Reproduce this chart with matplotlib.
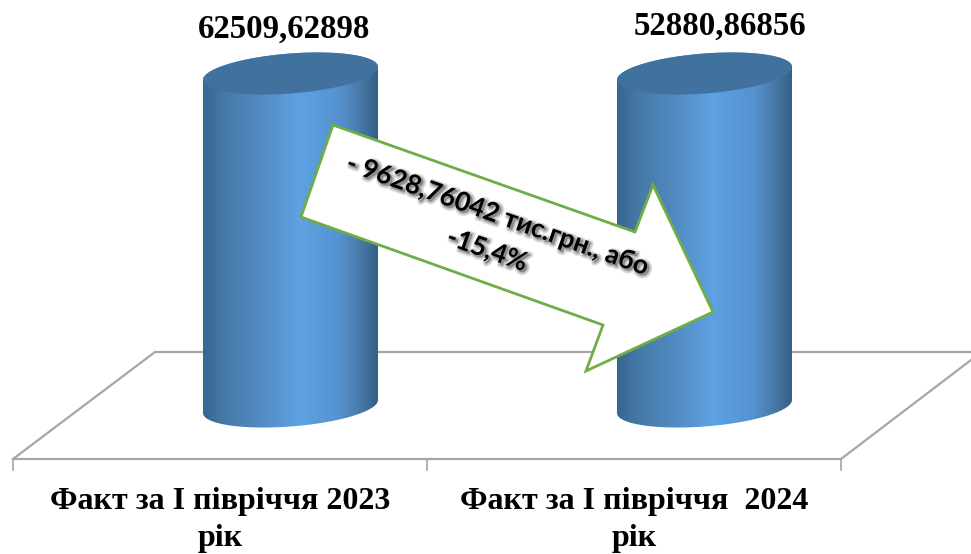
import numpy as np
import matplotlib
matplotlib.use("Agg")
import matplotlib.pyplot as plt
import matplotlib.patheffects as pe
from matplotlib.colors import LinearSegmentedColormap
from matplotlib.patches import Polygon

categories = ["Факт за І півріччя 2023\nрік", "Факт за І півріччя  2024\nрік"]
values = ["62509,62898", "52880,86856"]
# both cylinders are drawn the same height in the picture (in px)
bar_heights = [333, 333]
arrow_lines = ["- 9628,76042 тис.грн., або", "-15,4%"]

fig = plt.figure(figsize=(9.71, 5.54), dpi=100)
ax = fig.add_axes([0, 0, 1, 1])
ax.set_xlim(0, 971)
ax.set_ylim(554, 0)
ax.axis("off")

# floor
grey = "#a6a6a6"
ax.plot([13, 155, 971], [459, 352, 352], color=grey, lw=1.6, zorder=1)
ax.plot([13, 841, 971], [459, 459, 360], color=grey, lw=1.6, zorder=1)
for xt in [13, 427, 841]:
    ax.plot([xt, xt], [459, 470], color=grey, lw=1.2, zorder=1)

cmap = LinearSegmentedColormap.from_list("cyl", [
    (0.0, "#376691"), (0.12, "#447aa8"), (0.3, "#5088bd"), (0.55, "#5ea2e2"),
    (0.78, "#5592cf"), (0.9, "#487aa8"), (1.0, "#345f86")])


def cylinder(cx, height, a=87.5, b=20, slope=-6.5 / 87.5, base=406.5):
    top = base - height
    t = np.linspace(0, np.pi, 80)
    xb = cx + a * np.cos(t)
    yb = base + slope * a * np.cos(t) + b * np.sin(t)
    xt = cx + a * np.cos(t[::-1])
    yt = top + slope * a * np.cos(t[::-1]) - b * np.sin(t[::-1])
    body = Polygon(np.column_stack([np.r_[xb, xt], np.r_[yb, yt]]),
                   closed=True, fc="none", ec="none", transform=ax.transData)
    ax.add_patch(body)
    grad = np.linspace(0, 1, 256).reshape(1, -1)
    im = ax.imshow(grad, cmap=cmap, aspect="auto", zorder=2,
                   extent=[cx - a, cx + a, base + b + 10, top - b - 10])
    im.set_clip_path(body)
    t2 = np.linspace(0, 2 * np.pi, 160)
    ax.fill(cx + a * np.cos(t2), top + slope * a * np.cos(t2) + b * np.sin(t2),
            color="#41729f", lw=0, zorder=3)


bar_x = [290.5, 704.5]
value_xy = [(284, 29), (720, 26)]
label_xy = [(220, 520), (634, 520)]
serif = "Liberation Serif"
for i in range(2):
    cylinder(bar_x[i], bar_heights[i])
    ax.text(value_xy[i][0], value_xy[i][1], values[i], family=serif, weight="bold",
            fontsize=23.7, ha="center", va="center", color="black")
    ax.text(label_xy[i][0], label_xy[i][1], categories[i], family=serif, weight="bold",
            fontsize=23, ha="center", va="center", color="black", linespacing=1.32)

# arrow
arrow_x = [333, 635, 653, 713, 586, 603, 301]
arrow_y = [125, 232, 185, 312, 371, 325, 217]
ax.add_patch(Polygon(np.column_stack([arrow_x, arrow_y]), closed=True, fc="white",
                     ec="#70ad47", lw=2, joinstyle="miter", zorder=4))

# soft dark shadow behind the arrow text
shadow = [pe.Stroke(linewidth=w, foreground="black", alpha=0.1, offset=(1.5, -1.5)) for w in (4.5, 3, 1.5)]
shadow.append(pe.Normal())
for txt, (tx, ty) in zip(arrow_lines, [(497.5, 215), (487, 250)]):
    ax.text(tx, ty, txt, family="Lato", weight="bold", fontsize=19, rotation=-19.3,
            rotation_mode="anchor", ha="center", va="center", color="black",
            zorder=5, path_effects=shadow)

fig.savefig("out.png", dpi=100)
